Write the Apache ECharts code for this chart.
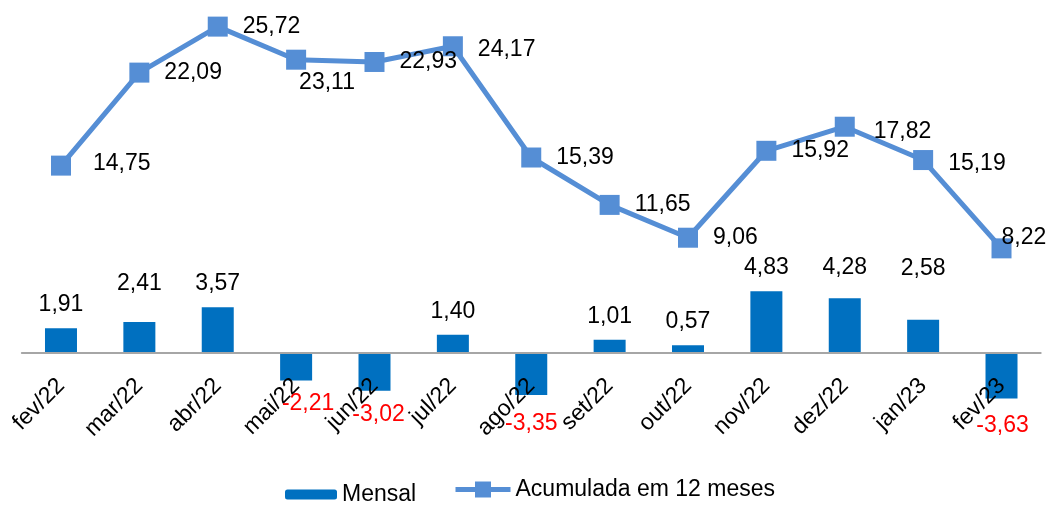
<!DOCTYPE html>
<html><head><meta charset="utf-8">
<script src="https://cdn.jsdelivr.net/npm/echarts@6/dist/echarts.min.js"></script>
<style>html,body{margin:0;padding:0;background:#fff}#c{width:1051px;height:505px}</style>
</head><body><div id="c"></div>
<script>
const categories = ['fev/22','mar/22','abr/22','mai/22','jun/22','jul/22','ago/22','set/22','out/22','nov/22','dez/22','jan/23','fev/23'];
const mensal = [1.91, 2.41, 3.57, -2.21, -3.02, 1.40, -3.35, 1.01, 0.57, 4.83, 4.28, 2.58, -3.63];
const acumulada = [14.75, 22.09, 25.72, 23.11, 22.93, 24.17, 15.39, 11.65, 9.06, 15.92, 17.82, 15.19, 8.22];
const seriesNames = ['Mensal', 'Acumulada em 12 meses'];

const FONT = 'Liberation Sans, Arial, sans-serif';
const FS = 23;
const fmt = v => v.toFixed(2).replace('.', ',');

// label nudges (style only)
const barLabelOffset = {1:[0,-15], 3:[12,0], 4:[4,0], 6:[0,5], 10:[0,-7], 11:[0,-28], 12:[1,4]};
const lineLabelOffset = {0:[7,-2], 3:[-22,23], 5:[0,3], 10:[4,5], 11:[0,4], 12:[-25,-11]};

const chart = echarts.init(document.getElementById('c'), null, {renderer: 'canvas'});
chart.setOption({
  animation: false,
  backgroundColor: '#fff',
  textStyle: {fontFamily: FONT},
  grid: {left: 21.8, right: 10.3, top: 10.4, bottom: 101.8, containLabel: false},
  legend: [
    {data: [seriesNames[0]], left: 285, top: 483, padding: 0, itemWidth: 52, itemHeight: 10, itemGap: 0,
     textStyle: {fontFamily: FONT, fontSize: FS, color: '#000'}},
    {data: [seriesNames[1]], left: 453, top: 478, padding: 0, itemWidth: 55, itemHeight: 20, itemGap: 0,
     lineStyle: {width: 5, color: '#558ED5'},
     textStyle: {fontFamily: FONT, fontSize: FS, color: '#000'}}
  ],
  xAxis: {
    type: 'category', data: categories, boundaryGap: true, z: 3,
    axisLine: {show: true, onZero: true, lineStyle: {color: '#A6A6A6', width: 2}},
    axisTick: {show: false},
    splitLine: {show: false},
    axisLabel: {interval: 0, rotate: 45, margin: -21, fontSize: FS, color: '#000', fontFamily: FONT}
  },
  yAxis: {type: 'value', min: -4, max: 27, show: false, splitLine: {show: false}},
  series: [
    {
      name: seriesNames[0], type: 'bar', data: mensal, barWidth: 32, z: 2,
      itemStyle: {color: '#0070C0'}
    },
    {
      name: 'labels', type: 'bar', barWidth: 32, barGap: '-100%', z: 5, silent: true,
      itemStyle: {color: 'rgba(0,0,0,0)'},
      data: mensal.map((v, i) => ({
        value: v,
        label: {position: v < 0 ? 'bottom' : 'top', color: v < 0 ? '#FF0000' : '#000', offset: barLabelOffset[i] || [0, 0]}
      })),
      label: {show: true, distance: 12, fontSize: FS, fontFamily: FONT, formatter: p => fmt(p.value)}
    },
    {
      name: seriesNames[1], type: 'line', z: 6,
      data: acumulada.map((v, i) => ({value: v, label: {offset: lineLabelOffset[i] || [0, 0]}})),
      symbol: 'rect', symbolSize: 20,
      lineStyle: {color: '#558ED5', width: 5},
      itemStyle: {color: '#558ED5'},
      label: {show: true, position: 'right', distance: 15, fontSize: FS, fontFamily: FONT, color: '#000', formatter: p => fmt(p.value)}
    }
  ]
});
</script></body></html>
